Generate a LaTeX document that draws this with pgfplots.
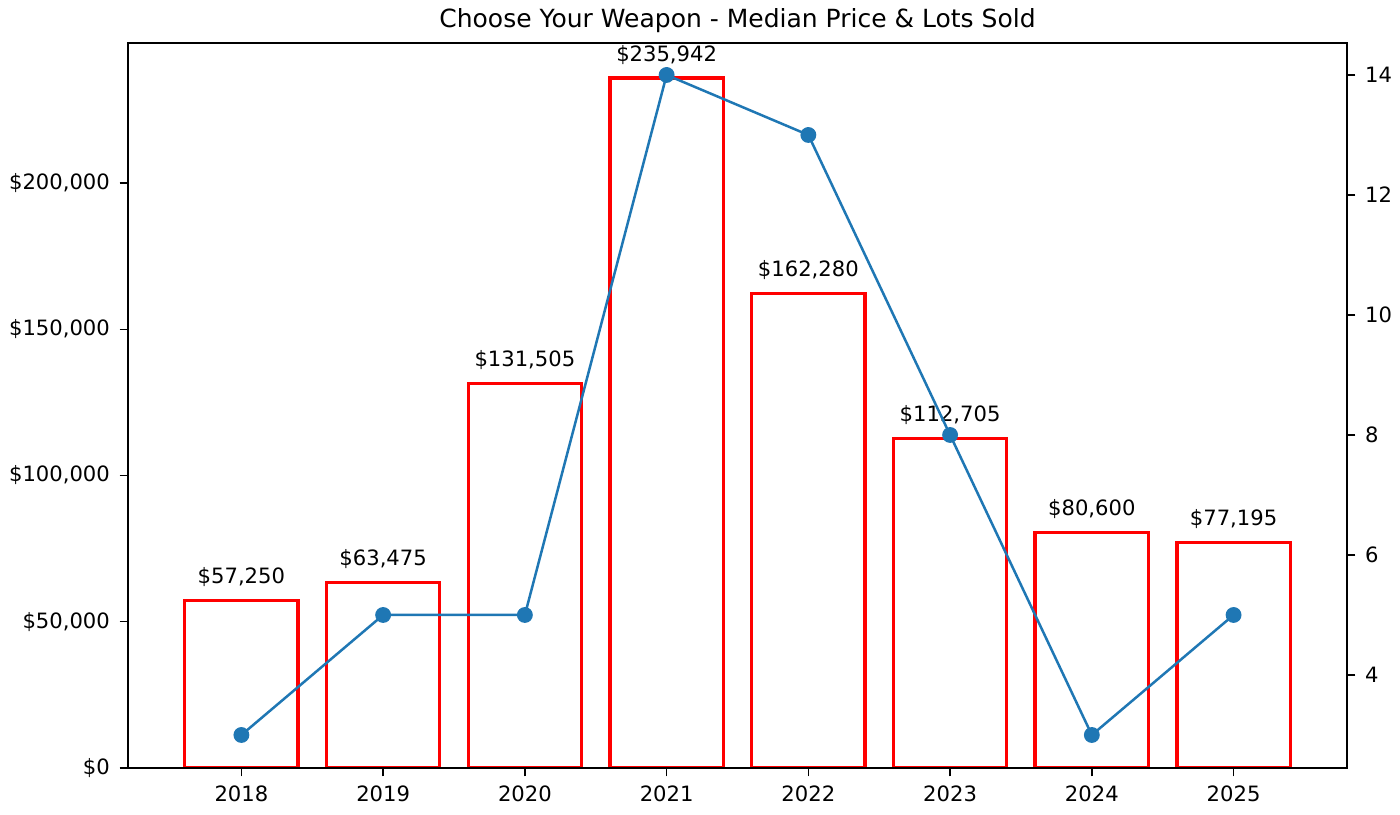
\documentclass[border=0pt]{standalone}
\usepackage{pgfplots}
\pgfplotsset{compat=1.18}
\usepackage{fontspec}
\setmainfont{DejaVu Sans}
\definecolor{mblue}{HTML}{1F77B4}
\begin{document}
\begin{tikzpicture}
\useasboundingbox (-46.08pt,-16.92pt) rectangle (457.92pt,276.48pt);
\pgfplotsset{every axis/.append style={scale only axis, width=438.84pt, height=261pt,
  xmin=-0.8, xmax=7.8, tick align=outside, axis line style={line width=0.5pt},
  every tick/.style={black,line width=0.5pt}, major tick length=3pt,
  tick label style={font=\fontsize{7.6}{8}\selectfont},
  scaled ticks=false,
  /pgf/number format/assume math mode=true}}
\begin{axis}[at={(0,0)}, anchor=south west,
  ymin=0, ymax=247863,
  xtick={0,...,7}, xticklabels={2018,2019,2020,2021,2022,2023,2024,2025},
  ytick={0,50000,100000,150000,200000},
  yticklabels={\$0,{\$50,000},{\$100,000},{\$150,000},{\$200,000}},
  ytick pos=left, xtick pos=bottom,
  title={Choose Your Weapon - Median Price \& Lots Sold},
  title style={font=\fontsize{9}{10}\selectfont, yshift=-6pt},
  nodes near coords={\$\pgfmathprintnumber[fixed,precision=0,1000 sep={,}]{\pgfplotspointmeta}},
  every node near coord/.style={font=\fontsize{7.6}{8}\selectfont, black, yshift=1pt},
  ]
\addplot[ybar, bar width=0.8, draw=red, line width=1.2pt, fill=none] coordinates {
(0,57250) (1,63475) (2,131505) (3,235942) (4,162280) (5,112705) (6,80600) (7,77195)};
\end{axis}
\begin{axis}[at={(0,0)}, anchor=south west,
  ymin=2.45, ymax=14.533, ytick={4,6,8,10,12,14},
  ytick pos=right, xtick=\empty]
\addplot[mblue, line width=0.9pt, mark=*, mark size=2.4pt, mark options={fill=mblue, draw=mblue}] coordinates {
(0,3) (1,5) (2,5) (3,14) (4,13) (5,8) (6,3) (7,5)};
\end{axis}
\end{tikzpicture}
\end{document}
